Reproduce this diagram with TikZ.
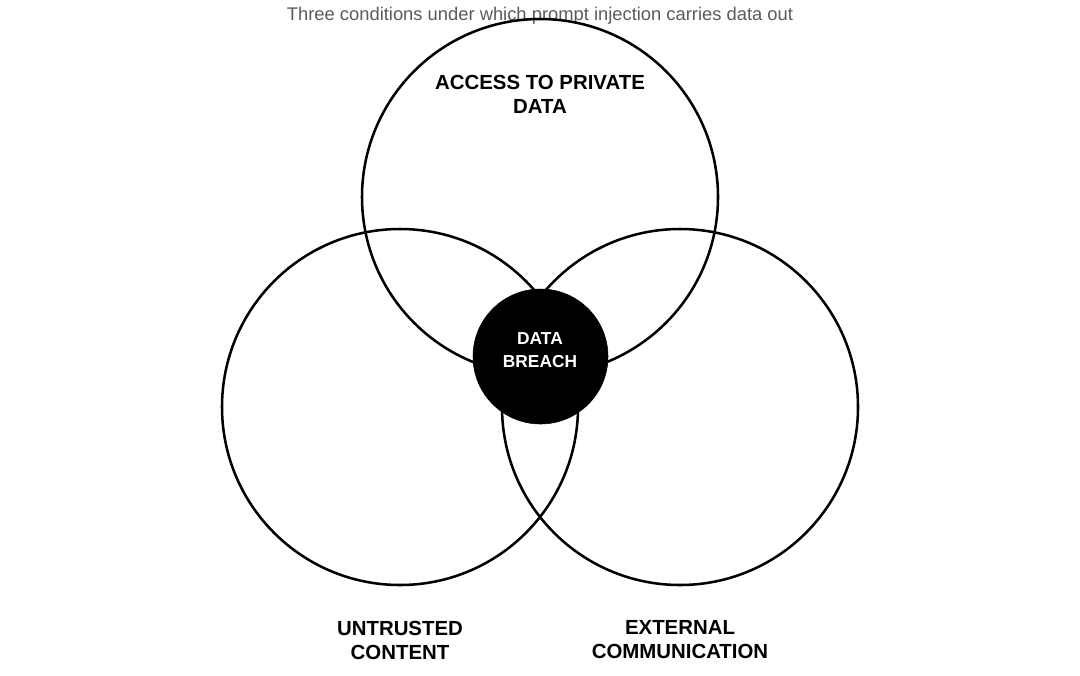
\documentclass[tikz,border=0pt]{standalone}
\usepackage{fontspec}
\setmainfont{Liberation Sans}
\begin{document}
\begin{tikzpicture}[x=0.75pt,y=-0.75pt,
  ring/.style={draw=black,line width=1.9pt,fill=none},
  hub/.style={circle,fill=black,draw=black,minimum size=101.25pt,inner sep=0pt},
  hubtext/.style={text=white,align=center,inner sep=0pt,font=\bfseries\fontsize{13pt}{17.25pt}\selectfont},
  lbl/.style={align=center,font=\bfseries\fontsize{15.3pt}{18pt}\selectfont,text=black,inner sep=0pt},
  ttl/.style={font=\fontsize{13.77pt}{16pt}\selectfont,text={rgb,255:red,90;green,90;blue,90},inner sep=0pt}]
\useasboundingbox (0,0) rectangle (1080,675);
\node[ttl] (title) at (540,16) {Three conditions under which prompt injection carries data out};
\draw[ring] (540,197) circle[radius=133.5pt];
\draw[ring] (400,407) circle[radius=133.5pt];
\draw[ring] (680,407) circle[radius=133.5pt];
\node[hub] (breach) at (540.5,356.5) {};
\node[hubtext] (breachtext) at (540,350) {DATA\\BREACH};
\node[lbl] (access) at (540,94) {ACCESS TO PRIVATE\\DATA};
\node[lbl] (untrusted) at (400,640) {UNTRUSTED\\CONTENT};
\node[lbl] (external) at (680,640) {EXTERNAL\\COMMUNICATION};
\end{tikzpicture}
\end{document}
